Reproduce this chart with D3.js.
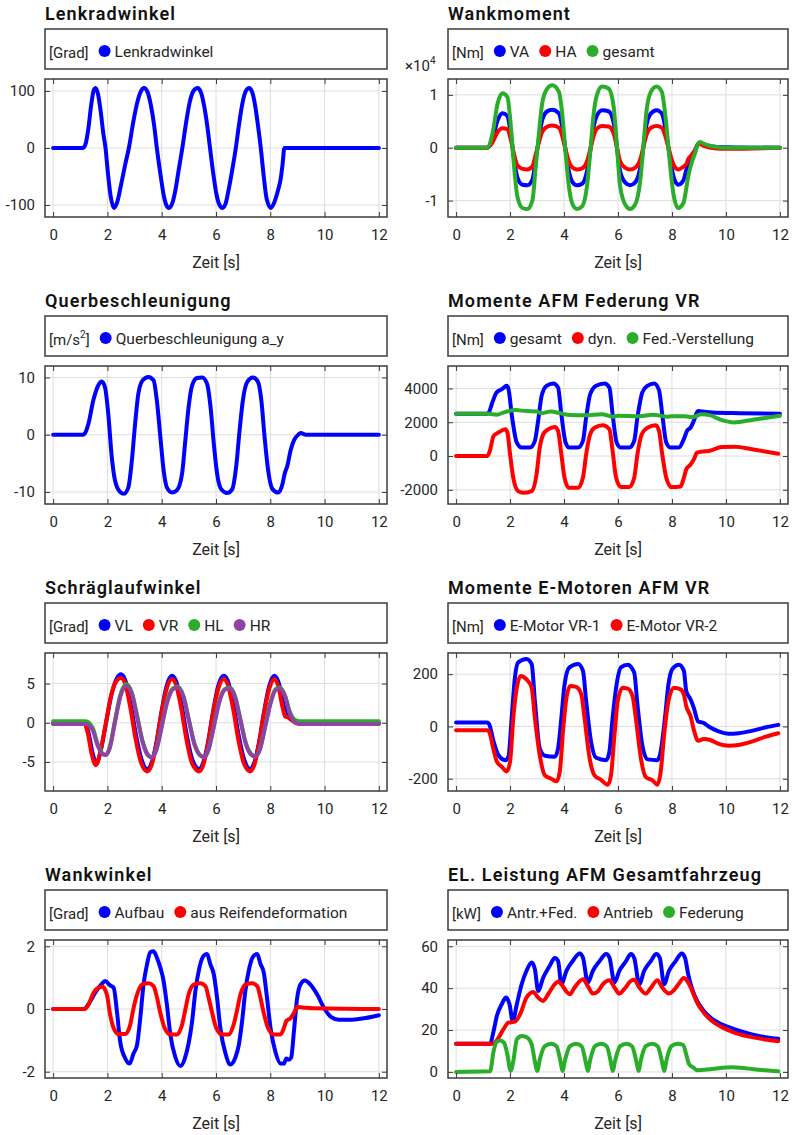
<!DOCTYPE html>
<html><head><meta charset="utf-8">
<script src="https://cdn.jsdelivr.net/npm/d3@7"></script>
<style>body{margin:0;background:#fff}svg{display:block}</style>
</head><body>
<svg id="c" width="797" height="1135"></svg>
<script>
// ---------------- DATA (time [s], value) ----------------
const xTicks = [0, 2, 4, 6, 8, 10, 12];

const lenkradwinkel = [[0,0],[1.1,0],[1.2,8],[1.3,35],[1.4,75],[1.5,102],[1.56,105],[1.65,95],[1.75,65],[1.85,25],[1.93,0],[2.02,-45],[2.12,-85],[2.24,-105],[2.36,-95],[2.5,-65],[2.65,-30],[2.79,0],[2.95,45],[3.1,80],[3.22,98],[3.35,105],[3.48,98],[3.6,75],[3.72,40],[3.82,0],[3.95,-45],[4.07,-82],[4.17,-100],[4.27,-105],[4.38,-98],[4.5,-75],[4.62,-40],[4.76,0],[4.9,45],[5.03,80],[5.17,100],[5.32,105],[5.45,97],[5.57,72],[5.68,38],[5.78,0],[5.9,-45],[6.02,-82],[6.13,-100],[6.24,-105],[6.35,-98],[6.47,-72],[6.6,-38],[6.73,0],[6.86,45],[6.98,80],[7.1,100],[7.22,105],[7.34,97],[7.45,72],[7.55,38],[7.65,0],[7.76,-50],[7.87,-90],[8.02,-105],[8.15,-95],[8.28,-75],[8.38,-55],[8.45,-30],[8.52,0],[12,0]];

const wankVA = [[0,0],[1.15,0],[1.35,1700],[1.54,5200],[1.72,6500],[1.9,6000],[2.03,2500],[2.15,-2200],[2.27,-5600],[2.46,-7000],[2.64,-7100],[2.83,-6000],[2.95,-2200],[3.07,1700],[3.19,5200],[3.38,6900],[3.56,7200],[3.81,6500],[3.93,4000],[4.05,-300],[4.18,-4500],[4.3,-6400],[4.48,-7100],[4.67,-6800],[4.85,-4500],[4.98,-300],[5.1,4000],[5.22,6100],[5.41,7100],[5.65,6900],[5.84,4700],[5.96,100],[6.08,-4500],[6.27,-6600],[6.45,-7100],[6.63,-6600],[6.82,-3900],[6.94,100],[7.06,4400],[7.22,6500],[7.43,7100],[7.62,6500],[7.76,3600],[7.89,-700],[8.05,-5300],[8.23,-7000],[8.42,-6200],[8.54,-4000],[8.6,-3000],[8.72,-1800],[8.85,-500],[8.97,700],[9.03,800],[9.21,500],[9.58,200],[10.07,100],[12,0]];
const wankHA = [[0,0],[1.15,0],[1.35,1000],[1.54,3000],[1.72,3700],[1.9,3500],[2.03,1500],[2.15,-1300],[2.27,-3300],[2.46,-4000],[2.64,-4100],[2.83,-3500],[2.95,-1300],[3.07,1000],[3.19,3000],[3.38,4000],[3.56,4200],[3.81,3800],[3.93,2300],[4.05,-200],[4.18,-2600],[4.3,-3700],[4.48,-4100],[4.67,-3900],[4.85,-2600],[4.98,-200],[5.1,2300],[5.22,3600],[5.41,4100],[5.65,4000],[5.84,2700],[5.96,100],[6.08,-2600],[6.27,-3800],[6.45,-4100],[6.63,-3800],[6.82,-2300],[6.94,100],[7.06,2500],[7.22,3800],[7.43,4100],[7.62,3800],[7.76,2100],[7.89,-400],[8.05,-3100],[8.23,-4100],[8.42,-3600],[8.54,-3000],[8.6,-2200],[8.72,-1400],[8.85,-500],[8.97,600],[9.03,700],[9.21,300],[9.58,-100],[10.07,-200],[12,0]];
const wankGesamt = [[0,0],[1.15,0],[1.35,2700],[1.54,8400],[1.72,10300],[1.9,9600],[2.03,4000],[2.15,-3600],[2.27,-9200],[2.46,-11400],[2.64,-11600],[2.83,-9900],[2.95,-3600],[3.07,2700],[3.19,8400],[3.38,11200],[3.56,11800],[3.81,10600],[3.93,6500],[4.05,-400],[4.18,-7300],[4.3,-10500],[4.48,-11600],[4.67,-11100],[4.85,-7300],[4.98,-400],[5.1,6500],[5.22,10000],[5.41,11600],[5.65,11200],[5.84,7700],[5.96,200],[6.08,-7300],[6.27,-10800],[6.45,-11600],[6.63,-10800],[6.82,-6400],[6.94,200],[7.06,7100],[7.22,10600],[7.43,11600],[7.62,10600],[7.76,5800],[7.89,-1100],[8.05,-8600],[8.23,-11400],[8.42,-10500],[8.54,-7400],[8.6,-5500],[8.72,-3000],[8.85,-1100],[8.97,800],[9.03,1100],[9.21,700],[9.58,200],[10.07,0],[12,0]];

const querbeschleunigung = [[0,0],[1.1,0],[1.2,0.5],[1.3,1.9],[1.48,6],[1.66,8.6],[1.79,9.3],[1.91,8.3],[2.03,3.7],[2.16,-3.9],[2.28,-8],[2.47,-10],[2.61,-10.3],[2.77,-9.2],[2.9,-4.5],[3.02,1.9],[3.14,7.2],[3.3,9.5],[3.51,10.1],[3.7,9.5],[3.82,6],[3.95,-0.4],[4.07,-6.2],[4.19,-9.2],[4.38,-10.1],[4.56,-9.7],[4.75,-6.8],[4.87,-1],[4.99,4.8],[5.12,8.6],[5.3,9.9],[5.49,10],[5.67,8.9],[5.8,4.8],[5.92,-1.6],[6.04,-6.8],[6.19,-9.5],[6.41,-10.2],[6.6,-9.5],[6.74,-5.7],[6.87,0.8],[6.99,6],[7.15,9.2],[7.36,10],[7.55,9.2],[7.67,6],[7.79,-0.4],[7.92,-6.2],[8.08,-9.5],[8.29,-10.1],[8.45,-8.6],[8.53,-6.8],[8.63,-5.4],[8.75,-2.7],[8.88,-0.9],[9.03,0],[9.12,0.3],[9.31,0],[12,0]];

const afmGesamt = [[0,2500],[1.15,2510],[1.2,2550],[1.35,3200],[1.5,3760],[1.7,3960],[1.88,4160],[1.95,3900],[2.06,2475],[2.25,790],[2.43,500],[2.74,500],[2.92,900],[3.04,2080],[3.17,3560],[3.35,4160],[3.6,4300],[3.78,4060],[3.9,2475],[4.06,790],[4.2,500],[4.52,500],[4.7,900],[4.82,2280],[4.97,3660],[5.19,4160],[5.5,4300],[5.68,4060],[5.8,2475],[5.95,790],[6.11,500],[6.42,500],[6.6,900],[6.72,2280],[6.9,3760],[7.09,4160],[7.34,4300],[7.52,3900],[7.64,2475],[7.79,790],[7.95,500],[8.26,500],[8.44,1000],[8.56,1500],[8.69,1680],[8.81,2080],[8.96,2670],[9.12,2630],[9.5,2580],[10.5,2540],[12,2510]];
const afmDyn = [[0,0],[1.15,0],[1.25,300],[1.39,1190],[1.57,1390],[1.82,1580],[1.9,1400],[2.0,100],[2.12,-1290],[2.3,-2080],[2.49,-2180],[2.8,-2080],[2.98,-1090],[3.1,500],[3.23,1290],[3.41,1580],[3.66,1720],[3.78,1480],[3.9,100],[4.02,-1290],[4.18,-1880],[4.52,-1880],[4.7,-1290],[4.82,100],[4.97,1290],[5.13,1680],[5.44,1820],[5.68,1580],[5.8,300],[5.93,-1290],[6.11,-1840],[6.42,-1840],[6.6,-1290],[6.72,100],[6.88,1290],[7.09,1680],[7.4,1820],[7.52,1480],[7.64,100],[7.79,-1290],[7.99,-1840],[8.32,-1800],[8.44,-1290],[8.53,-790],[8.69,-500],[8.81,-200],[8.93,200],[9.12,260],[9.36,300],[9.85,530],[10.34,550],[10.96,400],[11.94,140]];
const afmFedVerst = [[0,2500],[1.2,2500],[1.5,2450],[1.8,2600],[2.2,2720],[2.6,2660],[3.0,2640],[3.15,2530],[3.5,2640],[3.8,2560],[4.0,2480],[4.2,2430],[4.8,2420],[5.4,2480],[5.8,2330],[6.0,2380],[6.8,2360],[7.3,2450],[7.8,2330],[8.0,2360],[8.5,2350],[8.75,2300],[9.1,2480],[9.4,2420],[9.8,2150],[10.3,1990],[11.0,2150],[12,2380]];

const slipVL = [[0,-0.1],[1.15,-0.1],[1.3,-1.2],[1.45,-3.8],[1.6,-5.2],[1.75,-3.6],[1.95,0],[2.15,3.6],[2.35,5.7],[2.5,6.2],[2.65,5.5],[2.85,2.5],[3.05,-1.5],[3.25,-4.6],[3.47,-5.9],[3.62,-5.2],[3.8,-2.6],[3.98,1.2],[4.18,4.7],[4.37,6.0],[4.52,5.4],[4.72,2.5],[4.92,-1.5],[5.12,-4.6],[5.39,-5.9],[5.52,-5.2],[5.7,-2.6],[5.88,1.2],[6.08,4.7],[6.28,6.0],[6.43,5.4],[6.63,2.5],[6.83,-1.5],[7.03,-4.6],[7.26,-5.9],[7.4,-5.2],[7.58,-2.6],[7.76,1.2],[7.96,4.7],[8.15,6.0],[8.3,5.2],[8.45,3.0],[8.58,1.2],[8.7,0.6],[8.85,0.3],[9.05,-0.1],[12,-0.1]];
const slipVR = [[0,-0.1],[1.15,-0.1],[1.28,-1.4],[1.42,-4.0],[1.57,-5.4],[1.72,-4.0],[1.93,-0.3],[2.13,3.4],[2.33,5.3],[2.5,5.7],[2.65,5.0],[2.85,1.8],[3.05,-2.3],[3.25,-5.2],[3.47,-6.2],[3.62,-5.5],[3.8,-2.8],[3.98,1.0],[4.18,4.3],[4.37,5.6],[4.52,4.9],[4.72,1.8],[4.92,-2.3],[5.12,-5.2],[5.39,-6.2],[5.52,-5.5],[5.7,-2.8],[5.88,1.0],[6.08,4.3],[6.28,5.6],[6.43,4.9],[6.63,1.8],[6.83,-2.3],[7.03,-5.2],[7.26,-6.2],[7.4,-5.5],[7.58,-2.8],[7.76,1.0],[7.96,4.3],[8.15,5.6],[8.3,4.6],[8.45,2.0],[8.55,0.8],[8.65,0.7],[8.8,0.3],[9.0,-0.1],[12,-0.1]];
const slipHL = [[0,0.2],[1.2,0.2],[1.45,-0.6],[1.65,-2.8],[1.82,-3.9],[1.94,-4.1],[2.08,-3.2],[2.28,0.3],[2.48,3.6],[2.7,4.9],[2.9,3.8],[3.1,0.8],[3.3,-2.4],[3.48,-4.0],[3.63,-4.4],[3.8,-3.4],[4.0,-0.4],[4.2,2.8],[4.42,4.4],[4.6,4.6],[4.8,3.4],[5.0,0.4],[5.2,-2.6],[5.4,-4.1],[5.56,-4.4],[5.72,-3.4],[5.92,-0.4],[6.12,2.8],[6.32,4.3],[6.5,4.5],[6.7,3.4],[6.9,0.4],[7.1,-2.6],[7.3,-4.0],[7.45,-4.3],[7.62,-3.3],[7.82,-0.3],[8.02,2.8],[8.2,4.3],[8.35,4.5],[8.55,3.4],[8.72,1.4],[8.9,0.4],[9.1,0.2],[12,0.2]];
const slipHR = [[0,-0.15],[1.2,-0.15],[1.45,-0.9],[1.65,-3.0],[1.82,-4.0],[1.94,-4.1],[2.08,-3.3],[2.28,0.1],[2.48,3.4],[2.7,4.7],[2.9,3.7],[3.1,0.6],[3.3,-2.5],[3.48,-4.1],[3.63,-4.4],[3.8,-3.5],[4.0,-0.5],[4.2,2.6],[4.42,4.3],[4.6,4.5],[4.8,3.3],[5.0,0.3],[5.2,-2.7],[5.4,-4.1],[5.56,-4.4],[5.72,-3.5],[5.92,-0.5],[6.12,2.6],[6.32,4.2],[6.5,4.4],[6.7,3.3],[6.9,0.3],[7.1,-2.7],[7.3,-4.1],[7.45,-4.3],[7.62,-3.4],[7.82,-0.4],[8.02,2.6],[8.2,4.2],[8.35,4.4],[8.55,3.3],[8.72,1.2],[8.9,0.1],[9.1,-0.15],[12,-0.15]];

const motorVR1 = [[0,15],[1.15,15],[1.22,10],[1.39,-58],[1.57,-110],[1.82,-129],[1.94,-115],[2.06,32],[2.18,187],[2.3,245],[2.61,258],[2.8,239],[2.92,97],[3.1,-84],[3.29,-112],[3.66,-116],[3.78,-84],[3.9,32],[4.02,161],[4.2,226],[4.52,239],[4.7,213],[4.82,97],[5.0,-58],[5.19,-120],[5.56,-129],[5.68,-97],[5.8,32],[5.93,148],[6.11,226],[6.36,236],[6.6,206],[6.72,84],[6.9,-71],[7.09,-126],[7.46,-129],[7.58,-97],[7.74,32],[7.87,161],[8.01,219],[8.26,236],[8.44,213],[8.53,135],[8.69,103],[8.81,71],[8.97,19],[9.18,13],[9.36,0],[9.73,-19],[10.1,-28],[10.47,-26],[10.96,-17],[11.45,-4],[11.94,6]];
const motorVR2 = [[0,-15],[1.15,-15],[1.22,-20],[1.39,-90],[1.51,-135],[1.7,-155],[1.88,-172],[2.0,-135],[2.12,32],[2.25,148],[2.39,193],[2.61,180],[2.8,148],[2.92,32],[3.1,-110],[3.29,-187],[3.53,-200],[3.72,-210],[3.84,-175],[3.96,-20],[4.09,110],[4.23,155],[4.45,151],[4.64,123],[4.76,32],[4.95,-123],[5.13,-187],[5.37,-204],[5.62,-223],[5.74,-187],[5.87,-32],[5.99,97],[6.17,148],[6.36,145],[6.54,116],[6.66,32],[6.85,-123],[7.03,-194],[7.28,-206],[7.46,-223],[7.58,-175],[7.71,-32],[7.87,97],[8.07,148],[8.32,142],[8.44,123],[8.53,77],[8.69,39],[8.81,-13],[8.97,-55],[9.18,-48],[9.42,-52],[9.73,-67],[10.1,-74],[10.47,-71],[10.96,-58],[11.45,-40],[11.94,-26]];

const wankAufbau = [[0,0],[1.15,0],[1.3,0.15],[1.55,0.52],[1.8,0.81],[1.92,0.89],[2.1,0.75],[2.23,0.68],[2.35,-0.08],[2.47,-1.04],[2.66,-1.58],[2.82,-1.74],[2.96,-1.42],[3.09,-1.15],[3.21,-0.29],[3.33,0.78],[3.46,1.43],[3.58,1.81],[3.7,1.84],[3.83,1.62],[3.95,1.32],[4.07,0.89],[4.19,0.14],[4.32,-0.83],[4.5,-1.53],[4.69,-1.82],[4.85,-1.58],[4.99,-1.1],[5.12,-0.4],[5.24,0.57],[5.39,1.32],[5.55,1.7],[5.67,1.75],[5.79,1.43],[5.92,1.1],[6.04,0.35],[6.16,-0.61],[6.35,-1.42],[6.53,-1.77],[6.72,-1.53],[6.84,-1.15],[6.96,-0.4],[7.08,0.57],[7.23,1.32],[7.39,1.7],[7.52,1.75],[7.64,1.43],[7.76,1.16],[7.88,0.35],[8.01,-0.61],[8.19,-1.37],[8.38,-1.74],[8.5,-1.74],[8.59,-1.58],[8.68,-1.62],[8.77,-1.55],[8.87,-0.72],[8.99,0.35],[9.11,0.78],[9.27,0.91],[9.48,0.78],[9.73,0.46],[9.98,0.03],[10.22,-0.24],[10.53,-0.34],[11.02,-0.34],[11.51,-0.29],[12,-0.2]];
const wankReifen = [[0,0],[1.15,0],[1.3,0.14],[1.49,0.52],[1.67,0.68],[1.82,0.71],[1.98,0.46],[2.1,-0.18],[2.23,-0.61],[2.41,-0.8],[2.66,-0.8],[2.84,-0.5],[2.96,0.02],[3.09,0.46],[3.27,0.78],[3.52,0.82],[3.7,0.73],[3.83,0.35],[3.95,-0.13],[4.11,-0.61],[4.32,-0.81],[4.56,-0.81],[4.75,-0.5],[4.87,-0.02],[4.99,0.46],[5.18,0.78],[5.42,0.82],[5.61,0.73],[5.73,0.35],[5.86,-0.13],[6.01,-0.61],[6.22,-0.81],[6.47,-0.81],[6.65,-0.5],[6.78,-0.02],[6.9,0.46],[7.08,0.78],[7.33,0.82],[7.52,0.73],[7.64,0.35],[7.76,-0.13],[7.92,-0.61],[8.13,-0.81],[8.38,-0.81],[8.5,-0.61],[8.59,-0.38],[8.75,-0.29],[8.87,-0.13],[8.99,0.06],[9.18,0.05],[9.55,0.02],[12,0]];

const leistungAntrFed = [[0,13.5],[1.26,13.5],[1.39,19.5],[1.51,26.7],[1.69,32.3],[1.85,35.5],[1.98,32.3],[2.1,24.3],[2.25,32.3],[2.43,41.9],[2.61,48.3],[2.8,52.3],[2.92,49.1],[3.04,38.7],[3.23,45.1],[3.47,50.7],[3.66,54.4],[3.78,53],[3.9,41.9],[4.09,48.3],[4.33,53.1],[4.58,56.6],[4.7,54.7],[4.88,42.7],[5.07,48.3],[5.31,52.8],[5.56,56.3],[5.68,54.7],[5.87,42.7],[6.05,48.3],[6.29,52.8],[6.48,56.3],[6.6,54.4],[6.79,41.9],[6.97,48.3],[7.21,52.8],[7.42,56.3],[7.55,54.4],[7.71,41.9],[7.89,48.3],[8.13,52.8],[8.36,56.6],[8.48,54.7],[8.6,46.7],[8.75,39.5],[8.93,33.9],[9.18,29.1],[9.48,25.4],[9.85,22.7],[10.34,20.3],[10.96,17.9],[11.45,16.6],[11.94,15.8]];
const leistungAntrieb = [[0,13.5],[1.39,13.5],[1.57,16.3],[1.75,20.3],[1.94,23.5],[2.18,24],[2.37,27.5],[2.61,35.5],[2.86,38.2],[3.04,35.5],[3.23,33.9],[3.41,37.1],[3.66,41.9],[3.78,43.2],[3.9,41.9],[4.09,38.4],[4.21,37.1],[4.39,40.3],[4.7,44.3],[4.88,41],[5.07,37.4],[5.25,38.4],[5.44,41.9],[5.68,43.8],[5.87,40.3],[6.05,37.4],[6.23,39.5],[6.48,43.5],[6.6,44],[6.79,40.3],[7.03,37.4],[7.21,40],[7.46,43.8],[7.64,40.3],[7.89,37.4],[8.07,39],[8.26,42.2],[8.44,44.8],[8.56,43.5],[8.75,38.7],[8.93,33.1],[9.18,28.3],[9.48,24.3],[9.85,21.4],[10.34,18.7],[10.96,16.6],[11.45,15.5],[11.94,14.7]];
const leistungFederung = [[0,0],[1.26,0.3],[1.39,9.9],[1.51,14.4],[1.63,15],[1.78,13.9],[1.9,8.3],[2.02,0.5],[2.12,5.1],[2.25,15.5],[2.43,17.1],[2.61,16.6],[2.8,13.1],[2.92,5],[3.01,0.5],[3.1,5.8],[3.29,12.3],[3.53,13.4],[3.72,12.3],[3.87,5],[3.94,0.5],[4.04,5.8],[4.22,12.3],[4.45,13.4],[4.65,12.3],[4.8,5],[4.88,0.5],[4.97,5.8],[5.15,12.3],[5.38,13.4],[5.58,12.3],[5.73,5],[5.8,0.5],[5.9,5.8],[6.08,12.3],[6.32,13.4],[6.52,12.3],[6.68,5],[6.76,0.5],[6.85,5.8],[7.03,12.3],[7.27,13.4],[7.47,12.3],[7.63,5],[7.71,0.5],[7.8,5.8],[7.98,12.3],[8.2,13.4],[8.42,12.8],[8.53,8.3],[8.63,3.8],[8.81,1.9],[8.93,0.8],[9.48,1.4],[10.22,2.2],[10.71,1.8],[11.33,0.9],[11.94,0.3]];

// ---------------- STYLE ----------------
const BLUE = "#0000ff", RED = "#ff0000", GREEN = "#2aad2a", PURPLE = "#8e44a4";
const FONT = "Roboto, 'Noto Sans', sans-serif";
const TXT = "#262626";

const panels = [
  {title:"Lenkradwinkel", unit:["[Grad]"], col:0, row:0, yDomain:[-121,121], yTicks:[-100,0,100],
   series:[{name:"Lenkradwinkel", color:BLUE, data:lenkradwinkel}]},
  {title:"Wankmoment", unit:["[Nm]"], col:1, row:0, yDomain:[-13100,13000], yTicks:[-10000,0,10000], scaleExp:4,
   series:[{name:"VA", color:BLUE, data:wankVA},{name:"HA", color:RED, data:wankHA},{name:"gesamt", color:GREEN, data:wankGesamt}]},
  {title:"Querbeschleunigung", unit:["[m/s","2","]"], col:0, row:1, yDomain:[-12.1,12], yTicks:[-10,0,10],
   series:[{name:"Querbeschleunigung a_y", color:BLUE, data:querbeschleunigung}]},
  {title:"Momente AFM Federung VR", unit:["[Nm]"], col:1, row:1, yDomain:[-2840,5330], yTicks:[-2000,0,2000,4000],
   series:[{name:"gesamt", color:BLUE, data:afmGesamt},{name:"dyn.", color:RED, data:afmDyn},{name:"Fed.-Verstellung", color:GREEN, data:afmFedVerst}]},
  {title:"Schräglaufwinkel", unit:["[Grad]"], col:0, row:2, yDomain:[-8.7,8.9], yTicks:[-5,0,5],
   series:[{name:"VL", color:BLUE, data:slipVL},{name:"VR", color:RED, data:slipVR},{name:"HL", color:GREEN, data:slipHL},{name:"HR", color:PURPLE, data:slipHR}]},
  {title:"Momente E-Motoren AFM VR", unit:["[Nm]"], col:1, row:2, yDomain:[-247,281], yTicks:[-200,0,200],
   series:[{name:"E-Motor VR-1", color:BLUE, data:motorVR1},{name:"E-Motor VR-2", color:RED, data:motorVR2}]},
  {title:"Wankwinkel", unit:["[Grad]"], col:0, row:3, yDomain:[-2.2,2.2], yTicks:[-2,0,2],
   series:[{name:"Aufbau", color:BLUE, data:wankAufbau},{name:"aus Reifendeformation", color:RED, data:wankReifen}]},
  {title:"EL. Leistung AFM Gesamtfahrzeug", unit:["[kW]"], col:1, row:3, yDomain:[-2.9,63], yTicks:[0,20,40,60],
   series:[{name:"Antr.+Fed.", color:BLUE, data:leistungAntrFed},{name:"Antrieb", color:RED, data:leistungAntrieb},{name:"Federung", color:GREEN, data:leistungFederung}]}
];

// ---------------- LAYOUT ----------------
const colX = [[45,387],[448,788]];
const rowTop = [79,366,653,940];
const AH = 138;

const svg = d3.select("#c");
svg.append("rect").attr("width",797).attr("height",1135).attr("fill","#fff");

panels.forEach(p => {
  const [x0,x1] = colX[p.col];
  const y0 = rowTop[p.row], y1 = y0 + AH;
  const g = svg.append("g");
  const x = d3.scaleLinear().domain([-0.3,12.3]).range([x0,x1]);
  const y = d3.scaleLinear().domain(p.yDomain).range([y1,y0]);

  // title
  g.append("text").attr("x",x0).attr("y",y0-59).text(p.title)
    .attr("font-family",FONT).attr("font-size",18).attr("font-weight",600)
    .attr("letter-spacing",1.1).attr("fill","#111");

  // legend box
  const ly0 = y0-50, lh = 40;
  g.append("rect").attr("x",x0).attr("y",ly0).attr("width",x1-x0).attr("height",lh)
    .attr("fill","#fff").attr("stroke","#3c3c3c").attr("stroke-width",1.5);
  const lBase = ly0 + 28;
  const ut = g.append("text").attr("x",x0+4).attr("y",lBase+1)
    .attr("font-family",FONT).attr("font-size",15).attr("fill",TXT);
  ut.append("tspan").text(p.unit[0]);
  if (p.unit.length > 1) {
    ut.append("tspan").text(p.unit[1]).attr("font-size",10).attr("dy",-7);
    ut.append("tspan").text(p.unit[2]).attr("dy",7);
  }
  let cursor = x0 + 4 + ut.node().getComputedTextLength();
  p.series.forEach(s => {
    const cx = cursor + 10 + 6;
    g.append("circle").attr("cx",cx).attr("cy",lBase-6).attr("r",6).attr("fill",s.color);
    const t = g.append("text").attr("x",cx+10).attr("y",lBase).text(s.name)
      .attr("font-family",FONT).attr("font-size",15.5).attr("fill",TXT);
    cursor = cx + 10 + t.node().getComputedTextLength();
  });

  // grid
  g.selectAll(".gx").data(xTicks).enter().append("line")
    .attr("x1",d=>x(d)).attr("x2",d=>x(d)).attr("y1",y0).attr("y2",y1)
    .attr("stroke","#dedede").attr("stroke-width",1);
  g.selectAll(".gy").data(p.yTicks).enter().append("line")
    .attr("y1",d=>y(d)).attr("y2",d=>y(d)).attr("x1",x0).attr("x2",x1)
    .attr("stroke","#dedede").attr("stroke-width",1);

  // lines
  const line = d3.line().x(d=>x(d[0])).y(d=>y(d[1])).curve(d3.curveMonotoneX);
  p.series.forEach(s => {
    g.append("path").attr("d",line(s.data)).attr("fill","none")
      .attr("stroke",s.color).attr("stroke-width",4)
      .attr("stroke-linejoin","round").attr("stroke-linecap","round");
  });

  // axes (ticks inside, both sides)
  const fmt = p.scaleExp ? (d => String(d / Math.pow(10,p.scaleExp))) : (d => String(d));
  const axB = d3.axisBottom(x).tickValues(xTicks).tickSizeInner(-5).tickSizeOuter(0).tickPadding(12);
  const axT = d3.axisTop(x).tickValues(xTicks).tickSizeInner(-5).tickSizeOuter(0).tickFormat("");
  const axL = d3.axisLeft(y).tickValues(p.yTicks).tickSizeInner(-5).tickSizeOuter(0).tickPadding(10).tickFormat(fmt);
  const axR = d3.axisRight(y).tickValues(p.yTicks).tickSizeInner(-5).tickSizeOuter(0).tickFormat("");
  [[axB,`translate(0,${y1})`],[axT,`translate(0,${y0})`],[axL,`translate(${x0},0)`],[axR,`translate(${x1},0)`]]
    .forEach(([ax,tr]) => {
      const a = g.append("g").attr("transform",tr).call(ax);
      a.select(".domain").remove();
      a.selectAll("line").attr("stroke","#3c3c3c").attr("stroke-width",1);
      a.selectAll("text").attr("font-family",FONT).attr("font-size",15).attr("fill",TXT);
    });
  g.append("rect").attr("x",x0).attr("y",y0).attr("width",x1-x0).attr("height",AH)
    .attr("fill","none").attr("stroke","#3c3c3c").attr("stroke-width",1.5);

  // x label
  g.append("text").attr("x",(x0+x1)/2).attr("y",y1+51).attr("text-anchor","middle")
    .attr("font-family",FONT).attr("font-size",16).attr("fill",TXT).text("Zeit [s]");

  if (p.scaleExp) {
    const e = g.append("text").attr("x",x0-43).attr("y",y0-8)
      .attr("font-family",FONT).attr("font-size",15).attr("fill",TXT);
    e.append("tspan").text("×10");
    e.append("tspan").text(String(p.scaleExp)).attr("font-size",10).attr("dy",-7);
  }
});
</script>
</body></html>
